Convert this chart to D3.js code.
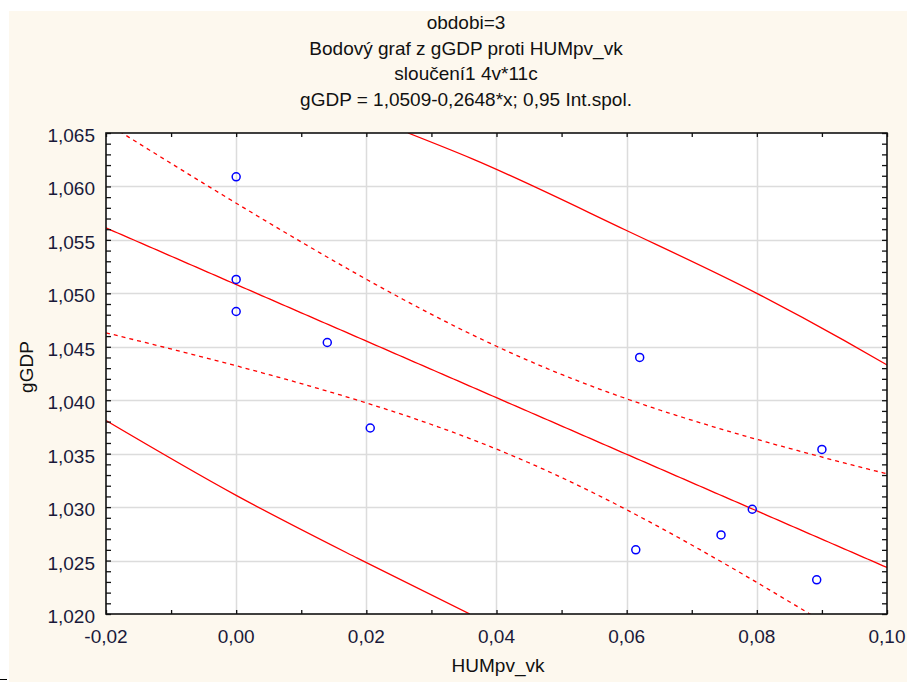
<!DOCTYPE html>
<html>
<head>
<meta charset="utf-8">
<script src="https://cdn.jsdelivr.net/npm/d3@7"></script>
<style>
  body { margin: 0; background: #fff; }
  text { font-family: "Liberation Sans", Arial, sans-serif; }
</style>
</head>
<body>
<div id="chart"></div>
<script>
// data
var titleLines = [ 'obdobi=3', 'Bodový graf z gGDP proti HUMpv_vk',
    'sloučení1 4v*11c', 'gGDP = 1,0509-0,2648*x; 0,95 Int.spol.' ];

var humValues = [ 0.000, 0.000, 0.000, 0.0140, 0.0206, 0.0620,
    0.0614, 0.0745, 0.0793, 0.0892, 0.0900 ];
var gdpValues = [ 1.0609, 1.0513, 1.0483, 1.0454, 1.0374, 1.0440,
    1.0260, 1.0274, 1.0298, 1.0232, 1.0354 ];

// outer solid bands
var upperBandX = [ 0.0264, 0.0362, 0.0599, 0.0800, 0.0934, 0.1000 ];
var upperBandY = [ 1.0650, 1.0626, 1.0559, 1.0500, 1.0456, 1.0433 ];
var lowerBandX = [ -0.0200, 0.0000, 0.0187, 0.0359 ];
var lowerBandY = [ 1.0381, 1.0311, 1.0252, 1.0200 ];

var xTicks = [ -0.02, 0.00, 0.02, 0.04, 0.06, 0.08, 0.10 ];
var yTicks = [ 1.020, 1.025, 1.030, 1.035, 1.040, 1.045, 1.050, 1.055, 1.060, 1.065 ];
var tValue = 2.2622; // t(0.975, 9)

var W = 907, H = 682;
var pL = 106, pR = 887, pT = 133, pB = 614;
var fs = 19;

var svg = d3.select('#chart').append('svg')
    .attr('width', W)
    .attr('height', H);

// cream background with a thin white border top/left
svg.append('rect').attr('x', 9).attr('y', 11)
    .attr('width', W - 9).attr('height', H - 11)
    .attr('fill', '#fdf8ee');
svg.append('line').attr('x1', 0).attr('x2', 7)
    .attr('y1', 679.5).attr('y2', 679.5)
    .attr('stroke', '#000').attr('stroke-width', 1);

var x = d3.scaleLinear().domain([-0.02, 0.10]).range([pL, pR]);
var y = d3.scaleLinear().domain([1.020, 1.065]).range([pB, pT]);

function fmt (v, d) {
    return d3.format('.' + d + 'f')(v).replace('.', ',').replace('−', '-');
}

// title
svg.selectAll('.title').data(titleLines).enter().append('text')
    .attr('x', 466)
    .attr('y', function (d, i) { return 29 + i * 25.5; })
    .attr('text-anchor', 'middle')
    .attr('font-size', fs)
    .attr('fill', '#111')
    .text(function (d) { return d; });

// plot background
svg.append('rect').attr('x', pL).attr('y', pT)
    .attr('width', pR - pL).attr('height', pB - pT)
    .attr('fill', '#fff');

// grid
svg.selectAll('.gx').data(xTicks.slice(1, -1)).enter().append('line')
    .attr('x1', function (d) { return Math.round(x(d)) + 0.5; })
    .attr('x2', function (d) { return Math.round(x(d)) + 0.5; })
    .attr('y1', pT).attr('y2', pB)
    .attr('stroke', '#dcdcdc').attr('stroke-width', 1.5);
svg.selectAll('.gy').data(yTicks.slice(1, -1)).enter().append('line')
    .attr('y1', function (d) { return Math.round(y(d)) + 0.5; })
    .attr('y2', function (d) { return Math.round(y(d)) + 0.5; })
    .attr('x1', pL).attr('x2', pR)
    .attr('stroke', '#dcdcdc').attr('stroke-width', 1.5);

// regression line and its confidence band
var n = humValues.length;
var mx = d3.mean(humValues), my = d3.mean(gdpValues);
var sxx = d3.sum(humValues, function (v) { return (v - mx) * (v - mx); });
var sxy = d3.sum(humValues, function (v, i) { return (v - mx) * (gdpValues[i] - my); });
var slope = sxy / sxx;
var icpt = my - slope * mx;
var sse = d3.sum(humValues, function (v, i) {
    var r = gdpValues[i] - (icpt + slope * v);
    return r * r;
});
var s = Math.sqrt(sse / (n - 2));

function fit (v) { return icpt + slope * v; }
function confHW (v) { return tValue * s * Math.sqrt(1 / n + (v - mx) * (v - mx) / sxx); }

var xs = d3.range(0, 201).map(function (i) { return -0.02 + i * 0.12 / 200; });

svg.append('clipPath').attr('id', 'clip').append('rect')
    .attr('x', pL).attr('y', pT)
    .attr('width', pR - pL).attr('height', pB - pT);

var plot = svg.append('g').attr('clip-path', 'url(#clip)');

var curves = [
    { f: fit, dash: null },
    { f: function (v) { return fit(v) + confHW(v); }, dash: '4,4' },
    { f: function (v) { return fit(v) - confHW(v); }, dash: '4,4' }
];

curves.forEach(function (c) {
    var line = d3.line()
        .x(function (v) { return x(v); })
        .y(function (v) { return y(c.f(v)); });
    plot.append('path')
        .attr('d', line(xs))
        .attr('fill', 'none')
        .attr('stroke', '#ff0000')
        .attr('stroke-width', 1.3)
        .attr('stroke-dasharray', c.dash);
});

// outer bands
var bandLine = d3.line()
    .x(function (d) { return x(d[0]); })
    .y(function (d) { return y(d[1]); })
    .curve(d3.curveMonotoneX);

[ [upperBandX, upperBandY], [lowerBandX, lowerBandY] ].forEach(function (b) {
    plot.append('path')
        .attr('d', bandLine(d3.zip(b[0], b[1])))
        .attr('fill', 'none')
        .attr('stroke', '#ff0000')
        .attr('stroke-width', 1.3);
});

// points
plot.selectAll('.pt').data(humValues).enter().append('circle')
    .attr('cx', function (d) { return x(d); })
    .attr('cy', function (d, i) { return y(gdpValues[i]); })
    .attr('r', 4)
    .attr('fill', 'none')
    .attr('stroke', '#0000ff')
    .attr('stroke-width', 1.5);

// frame and inward ticks
var minorX = d3.range(0, 13).map(function (i) { return -0.02 + i * 0.01; });
var minorY = d3.range(0, 46).map(function (i) { return 1.020 + i * 0.001; });

var axisB = d3.axisBottom(x).tickValues(minorX).tickSize(-4).tickFormat('');
var axisT = d3.axisTop(x).tickValues(minorX).tickSize(-4).tickFormat('');
var axisL = d3.axisLeft(y).tickValues(minorY).tickSize(-5).tickFormat('');
var axisR = d3.axisRight(y).tickValues(minorY).tickSize(-5).tickFormat('');

[ [axisB, 'translate(0,' + pB + ')'],
  [axisT, 'translate(0,' + pT + ')'],
  [axisL, 'translate(' + pL + ',0)'],
  [axisR, 'translate(' + pR + ',0)'] ].forEach(function (a) {
    var g = svg.append('g').attr('transform', a[1]).call(a[0]);
    g.select('.domain').remove();
    g.selectAll('line').attr('stroke', '#111').attr('stroke-width', 1.3);
});

svg.append('rect').attr('x', pL).attr('y', pT)
    .attr('width', pR - pL).attr('height', pB - pT)
    .attr('fill', 'none').attr('stroke', '#111').attr('stroke-width', 1.6);

// tick labels
svg.selectAll('.xl').data(xTicks).enter().append('text')
    .attr('x', function (d) { return x(d); })
    .attr('y', 643)
    .attr('text-anchor', 'middle')
    .attr('font-size', fs)
    .attr('fill', '#1a1a3a')
    .text(function (d) { return fmt(d, 2); });

svg.selectAll('.yl').data(yTicks).enter().append('text')
    .attr('x', 95)
    .attr('y', function (d) { return y(d) + 9; })
    .attr('text-anchor', 'end')
    .attr('font-size', fs)
    .attr('fill', '#1a1a3a')
    .text(function (d) { return fmt(d, 3); });

// axis titles
svg.append('text')
    .attr('x', 498).attr('y', 672)
    .attr('text-anchor', 'middle')
    .attr('font-size', fs)
    .attr('fill', '#111')
    .text('HUMpv_vk');

svg.append('text')
    .attr('transform', 'translate(33,367) rotate(-90)')
    .attr('text-anchor', 'middle')
    .attr('font-size', fs)
    .attr('fill', '#111')
    .text('gGDP');
</script>
</body>
</html>
